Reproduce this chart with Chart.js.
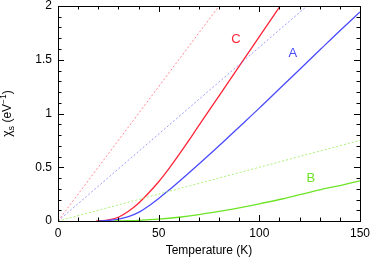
<!DOCTYPE html>
<html>
<head>
<meta charset="utf-8">
<script src="https://cdn.jsdelivr.net/npm/chart.js@4/dist/chart.umd.min.js"></script>
<style>
  body { margin: 0; background: #fff; }
</style>
</head>
<body>
<canvas id="grafico" width="373" height="259"></canvas>
<script>
// curve C (red), A (blue), B (green): temperature (K) and chi_s (eV^-1)
const tempC = [19, 22, 25, 30, 35, 40, 45, 50, 55, 60, 65, 70, 80, 90, 100, 110];
const chiC  = [0, 0.003, 0.01, 0.035, 0.09, 0.165, 0.26, 0.365, 0.485, 0.615, 0.75, 0.89, 1.165, 1.44, 1.715, 1.99];

const tempA = [20, 25, 30, 35, 40, 45, 50, 55, 60, 70, 80, 90, 100, 110, 120, 130, 140, 150];
const chiA  = [0, 0.005, 0.017, 0.04, 0.08, 0.14, 0.21, 0.285, 0.365, 0.53, 0.70, 0.875, 1.05, 1.23, 1.41, 1.59, 1.77, 1.945];

const tempB = [28, 35, 40, 50, 60, 70, 80, 90, 100, 110, 120, 130, 140, 150];
const chiB  = [0, 0.003, 0.006, 0.017, 0.035, 0.06, 0.09, 0.123, 0.16, 0.2, 0.245, 0.29, 0.33, 0.373];

// dashed straight lines from the origin
const tempLinC = [0, 80];
const chiLinC  = [0, 2];
const tempLinA = [0, 123.7];
const chiLinA  = [0, 2];
const tempLinB = [0, 150];
const chiLinB  = [0, 0.75];

// tick labels
const ticksX = [0, 50, 100, 150];
const ticksY = [0, 0.5, 1, 1.5, 2];
const rotulosY = ['0', '0.5', '1', '1.5', '2'];

// curve labels
const nomes = ['C', 'A', 'B'];
const nomeT = [88.4, 116.7, 125.6];
const nomeChi = [1.69, 1.56, 0.40];

const vermelho = 'rgb(255, 35, 55)';
const azul = 'rgb(75, 75, 255)';
const verde = 'rgb(110, 228, 40)';
const cores = [vermelho, azul, verde];

function pontos(xs, ys) {
  return xs.map((x, i) => ({ x: x, y: ys[i] }));
}

const fonte = "'Liberation Sans', Arial, sans-serif";

const moldura = {
  id: 'moldura',
  afterDraw(chart) {
    const ctx = chart.ctx;
    const a = chart.chartArea;
    const sx = chart.scales.x;
    const sy = chart.scales.y;
    ctx.save();
    ctx.strokeStyle = '#000';
    ctx.lineWidth = 1;
    ctx.strokeRect(a.left + 0.5, a.top + 0.5, a.right - a.left, a.bottom - a.top);

    ctx.beginPath();
    for (let t = 0; t <= 150; t += 10) {
      const px = Math.round(sx.getPixelForValue(t)) + 0.5;
      const len = t % 50 === 0 ? 6 : 3.5;
      ctx.moveTo(px, a.bottom);
      ctx.lineTo(px, a.bottom - len);
      ctx.moveTo(px, a.top);
      ctx.lineTo(px, a.top + len);
    }
    for (let k = 0; k <= 20; k++) {
      const py = Math.round(sy.getPixelForValue(k / 10)) + 0.5;
      const len = k % 5 === 0 ? 6 : 3.5;
      ctx.moveTo(a.left, py);
      ctx.lineTo(a.left + len, py);
      ctx.moveTo(a.right, py);
      ctx.lineTo(a.right - len, py);
    }
    ctx.stroke();

    // tick labels
    ctx.fillStyle = '#000';
    ctx.font = '12px ' + fonte;
    ctx.textAlign = 'center';
    ctx.textBaseline = 'middle';
    ticksX.forEach(t => ctx.fillText(String(t), sx.getPixelForValue(t), a.bottom + 13));
    ctx.textAlign = 'right';
    ticksY.forEach((v, i) => ctx.fillText(rotulosY[i], a.left - 6, sy.getPixelForValue(v)));

    // curve labels
    ctx.font = '13px ' + fonte;
    ctx.textAlign = 'center';
    nomes.forEach((n, i) => {
      ctx.fillStyle = cores[i];
      ctx.fillText(n, sx.getPixelForValue(nomeT[i]), sy.getPixelForValue(nomeChi[i]));
    });

    // x title
    ctx.fillStyle = '#000';
    ctx.font = '12px ' + fonte;
    ctx.fillText('Temperature (K)', (a.left + a.right) / 2, 251);

    // y title: chi_s (eV^-1)
    const partes = [
      { t: '\u03c7', f: 12, dy: 0 },
      { t: 's', f: 9, dy: 3 },
      { t: ' (eV', f: 12, dy: 0 },
      { t: '\u22121', f: 8.5, dy: -5 },
      { t: ')', f: 12, dy: 0 }
    ];
    let total = 0;
    partes.forEach(p => { ctx.font = p.f + 'px ' + fonte; p.w = ctx.measureText(p.t).width; total += p.w; });
    ctx.translate(10.5, (a.top + a.bottom) / 2);
    ctx.rotate(-Math.PI / 2);
    ctx.textAlign = 'left';
    ctx.textBaseline = 'alphabetic';
    let cx = -total / 2;
    partes.forEach(p => {
      ctx.font = p.f + 'px ' + fonte;
      ctx.fillText(p.t, cx, p.dy);
      cx += p.w;
    });
    ctx.restore();
  }
};

function serie(xs, ys, cor, tracejado) {
  return {
    data: pontos(xs, ys),
    borderColor: cor,
    borderWidth: tracejado ? 0.8 : 1.3,
    borderDash: tracejado ? [2, 2] : [],
    pointRadius: 0,
    cubicInterpolationMode: 'monotone',
    fill: false
  };
}

const config = {
  type: 'line',
  data: {
    datasets: [
      serie(tempLinC, chiLinC, 'rgba(255, 70, 90, 0.8)', true),
      serie(tempLinA, chiLinA, 'rgba(100, 100, 255, 0.8)', true),
      serie(tempLinB, chiLinB, 'rgba(140, 235, 70, 0.9)', true),
      serie(tempB, chiB, verde, false),
      serie(tempA, chiA, azul, false),
      serie(tempC, chiC, vermelho, false)
    ]
  },
  options: {
    responsive: false,
    animation: false,
    devicePixelRatio: 1,
    layout: { padding: { top: 6, right: 13, left: 0, bottom: 0 } },
    plugins: { legend: { display: false }, tooltip: { enabled: false } },
    scales: {
      x: {
        type: 'linear',
        min: 0,
        max: 150,
        grid: { display: false },
        border: { display: false },
        ticks: { display: false },
        afterFit: s => { s.height = 38; }
      },
      y: {
        min: 0,
        max: 2,
        grid: { display: false },
        border: { display: false },
        ticks: { display: false },
        afterFit: s => { s.width = 58; }
      }
    }
  },
  plugins: [moldura]
};

const grafico = new Chart(document.getElementById('grafico'), config);
</script>
</body>
</html>
